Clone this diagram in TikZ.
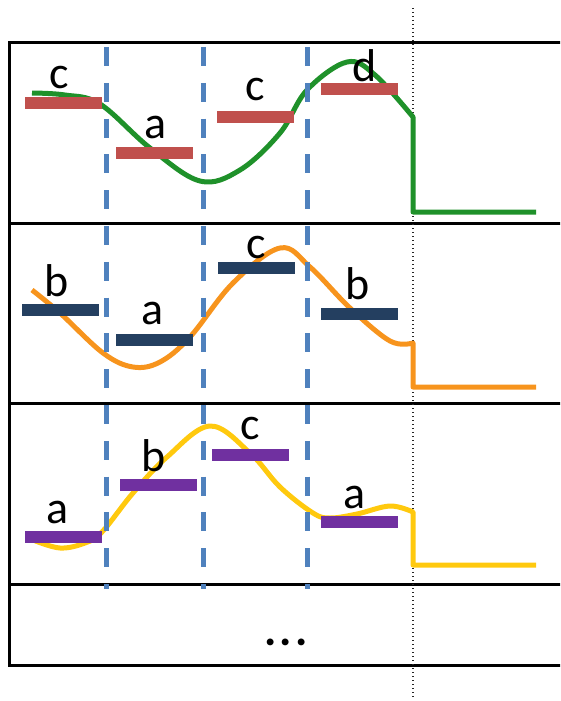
\documentclass[tikz,border=0pt]{standalone}
\usepackage{fontspec}
\setmainfont{Carlito}
\usetikzlibrary{positioning}
\definecolor{segblue}{HTML}{4F81BD}
\definecolor{trgreen}{HTML}{1F912A}
\definecolor{trorange}{HTML}{F7941D}
\definecolor{tryellow}{HTML}{FFC90E}
\definecolor{barred}{HTML}{C0504D}
\definecolor{barnavy}{HTML}{243F60}
\definecolor{barpurple}{HTML}{7030A0}
\begin{document}
\begin{tikzpicture}[x=1pt,y=-1pt,
  bar/.style={rectangle,inner sep=0pt,minimum width=77pt,minimum height=12pt},
  lbl/.style={inner sep=0pt,font=\fontsize{46}{50}\selectfont},
  trace/.style={line width=5pt,line join=round}]
  \useasboundingbox (0,0) rectangle (560,701);
  \clip (0,0) rectangle (560,701);
  % frame and rows
  \draw[line width=3pt] (9,43) rectangle (575,665);
  \foreach \y in {223,403,584}
    \draw[line width=3pt] (9,\y) -- (575,\y);
  % end of the sequence
  \draw[black!85,line width=1.1pt,dash pattern=on 1.1pt off 2.9pt] (413,8) -- (413,699);
  % the three traces
  \draw[trace,trgreen] plot[smooth,tension=0.6] coordinates {(32,93) (65,95) (100,104)
    (150,148) (200,181) (240,170) (280,133) (307,90) (347,62) (375,75) (413,117)}
    -- (413,212) -- (536,212);
  \draw[trace,trorange] plot[smooth,tension=0.6] coordinates {(32,290) (60,313) (103,353)
    (133,367) (160,362) (190,337) (233,283) (280,248) (310,267) (350,308) (390,341) (413,343)}
    -- (413,387) -- (536,387);
  \draw[trace,tryellow] plot[smooth,tension=0.6] coordinates {(33,540) (60,548) (85,543)
    (102,532) (133,493) (167,457) (210,426) (250,453) (280,487) (313,513) (330,518)
    (357,514) (390,506) (413,512)} -- (413,565) -- (536,565);
  % segment borders
  \foreach \x in {106,203,307}
    \draw[segblue,line width=5pt,dash pattern=on 19pt off 16.8pt] (\x,47) -- (\x,589);
  % states, one row per trace
  \foreach \x/\y/\t/\g/\dx [count=\i] in {63/102.5/c/7/-4,154.5/152.5/a/7/1.5,
      255.5/116.5/c/9/0,359.5/88.5/d/0/5.5}{
    \node[bar,fill=barred] (s1\i) at (\x,\y) {};
    \node[lbl,above=\g pt of s1\i,xshift=\dx pt] (t1\i) {\t};}
  \foreach \x/\y/\t/\g/\dx [count=\i] in {60.5/309.5/b/6/-4,154/339.5/a/8/-1,
      256/268/c/3/0,359.5/313.5/b/7/-1.5}{
    \node[bar,fill=barnavy] (s2\i) at (\x,\y) {};
    \node[lbl,above=\g pt of s2\i,xshift=\dx pt] (t2\i) {\t};}
  \foreach \x/\y/\t/\g/\dx [count=\i] in {63/537/a/7/-5,158/484.5/b/6/-4,
      250/454.5/c/8/0,359.5/521.5/a/6/-4.5}{
    \node[bar,fill=barpurple] (s3\i) at (\x,\y) {};
    \node[lbl,above=\g pt of s3\i,xshift=\dx pt] (t3\i) {\t};}
  \node[lbl,anchor=base] (more) at (286,645) {\bfseries .\kern3pt.\kern3pt.};
\end{tikzpicture}
\end{document}
